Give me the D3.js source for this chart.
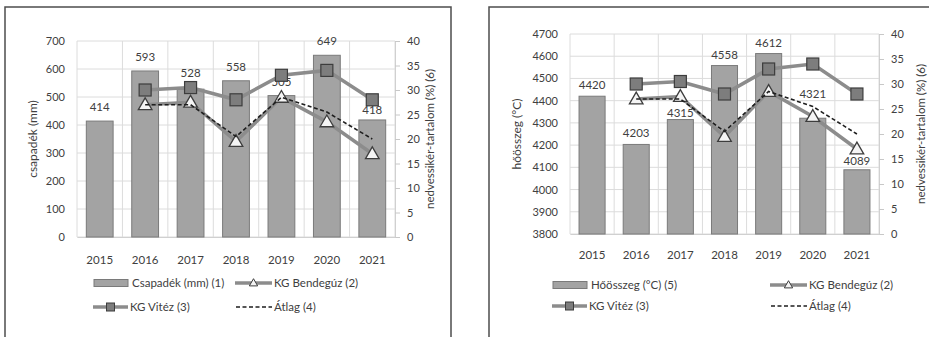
<!DOCTYPE html>
<html><head><meta charset="utf-8">
<script src="https://cdn.jsdelivr.net/npm/d3@7"></script>
<style>
body{margin:0;background:#fff;}
svg{display:block;font-family:Lato,"Open Sans",sans-serif;}
</style></head><body>
<svg id="c" width="929" height="337"></svg>
<script>
const years = ["2015","2016","2017","2018","2019","2020","2021"];
const precipitation = [414, 593, 528, 558, 505, 649, 418];
const heatSum = [4420, 4203, 4315, 4558, 4612, 4321, 4089];
const bendeguz = [null, 27, 27.5, 19.5, 28.5, 23.5, 17];
const vitez = [null, 30, 30.5, 28, 33, 34, 28];
const atlag = [null, 27, 27, 20.5, 28.5, 25.5, 20];
const precipTicks = [0,100,200,300,400,500,600,700];
const heatTicks = [3800,3900,4000,4100,4200,4300,4400,4500,4600,4700];
const moistTicks = [0,5,10,15,20,25,30,35,40];

const svg = d3.select("#c");
const TXT = "#404040";

function panel(cfg){
  const g = svg.append("g");
  g.append("rect").attr("x",cfg.bx0).attr("y",7).attr("width",cfg.bx1-cfg.bx0).attr("height",400)
    .attr("fill","none").attr("stroke","#4d4d4d").attr("stroke-width",1.5);
  const x = d3.scaleBand().domain(years).range([cfg.x0,cfg.x1]).paddingInner(0).paddingOuter(0);
  const y = d3.scaleLinear().domain(cfg.yDomain).range([cfg.yB,cfg.yT]);
  const y2 = d3.scaleLinear().domain([0,40]).range([cfg.yB,cfg.yT]);
  g.append("g").selectAll("line").data(cfg.yTicks).join("line")
    .attr("x1",cfg.x0).attr("x2",cfg.x1).attr("y1",d=>y(d)).attr("y2",d=>y(d))
    .attr("stroke","#dcdcdc").attr("stroke-width",1);
  const bounds = years.map(d=>x(d)).concat([cfg.x1]);
  g.append("g").selectAll("line").data(bounds).join("line")
    .attr("x1",d=>d).attr("x2",d=>d).attr("y1",cfg.yT).attr("y2",cfg.yB)
    .attr("stroke","#dcdcdc").attr("stroke-width",1);
  const la = g.append("g").attr("transform",`translate(${cfg.x0-12},0)`)
    .call(d3.axisLeft(y).tickValues(cfg.yTicks).tickFormat(d3.format("d")).tickSize(0).tickPadding(0));
  la.select(".domain").remove();
  la.selectAll("text").attr("fill",TXT).attr("font-size",11).attr("font-family","Lato,sans-serif");
  const ra = g.append("g").attr("transform",`translate(${cfg.x1},0)`)
    .call(d3.axisRight(y2).tickValues(moistTicks).tickSize(5).tickPadding(7));
  ra.select(".domain").attr("stroke","#d0d0d0");
  ra.selectAll("line").attr("stroke","#c8c8c8");
  ra.selectAll("text").attr("fill",TXT).attr("font-size",11).attr("font-family","Lato,sans-serif");
  const ba = g.append("g").attr("transform",`translate(0,${cfg.yB})`)
    .call(d3.axisBottom(x).tickSize(0).tickPadding(cfg.xPad));
  ba.select(".domain").attr("stroke","#d0d0d0");
  ba.selectAll("text").attr("fill",TXT).attr("font-size",11.5).attr("font-family","Lato,sans-serif");
  const bw = x.bandwidth()*0.59;
  const cxi = i=>x(years[i])+x.bandwidth()/2;
  g.append("g").selectAll("rect").data(cfg.bars).join("rect")
    .attr("x",(d,i)=>cxi(i)-bw/2).attr("width",bw)
    .attr("y",d=>y(d)).attr("height",d=>cfg.yB-y(d))
    .attr("fill","#a3a3a3").attr("stroke","#7a7a7a").attr("stroke-width",1);
  g.append("g").selectAll("text").data(cfg.bars).join("text")
    .attr("x",(d,i)=>cxi(i)).attr("y",(d,i)=>y(d)-cfg.labOff-((cfg.labAdj||{})[i]||0))
    .attr("text-anchor","middle").attr("dy","0.35em").attr("font-size",11.5).attr("fill",TXT)
    .text(d=>d);
  const line = d3.line().defined(d=>d!=null).x((d,i)=>cxi(i)).y(d=>y2(d));
  const pts = arr => arr.map((v,i)=>({v,i})).filter(p=>p.v!=null);
  g.append("path").datum(vitez).attr("d",line).attr("fill","none").attr("stroke","#8c8c8c").attr("stroke-width",3.5);
  g.append("path").datum(bendeguz).attr("d",line).attr("fill","none").attr("stroke","#8c8c8c").attr("stroke-width",3.5);
  g.append("g").selectAll("rect").data(pts(vitez)).join("rect")
    .attr("x",p=>cxi(p.i)-6).attr("y",p=>y2(p.v)-6).attr("width",12).attr("height",12)
    .attr("fill","#7d7d7d").attr("stroke","#3d3d3d").attr("stroke-width",1.2);
  const tri = d3.symbol().type(d3.symbolTriangle).size(80);
  g.append("g").selectAll("path").data(pts(bendeguz)).join("path")
    .attr("transform",p=>`translate(${cxi(p.i)},${y2(p.v)+1})`).attr("d",tri)
    .attr("fill","#f4f4f4").attr("stroke","#3d3d3d").attr("stroke-width",1.3);
  g.append("path").datum(atlag).attr("d",line).attr("fill","none").attr("stroke","#1e1e1e")
    .attr("stroke-width",1.6).attr("stroke-dasharray","4,2.5");
  g.append("text").attr("transform",`translate(${cfg.ltX},${(cfg.yT+cfg.yB)/2}) rotate(-90)`)
    .attr("text-anchor","middle").attr("dy","0.35em").attr("font-size",12).attr("fill",TXT).text(cfg.lTitle);
  g.append("text").attr("transform",`translate(${cfg.rtX},${(cfg.yT+cfg.yB)/2}) rotate(-90)`)
    .attr("text-anchor","middle").attr("dy","0.35em").attr("font-size",11.5).attr("fill",TXT).text("nedvessikér-tartalom (%) (6)");
  const L = cfg.leg;
  const lg = g.append("g").attr("font-size",11.5).attr("fill",TXT);
  lg.append("rect").attr("x",L.bx).attr("y",L.r1-3.5).attr("width",34).attr("height",7)
    .attr("fill","#a3a3a3").attr("stroke","#7a7a7a");
  lg.append("text").attr("x",L.bx+38).attr("y",L.r1).attr("dy","0.35em").text(cfg.barName);
  lg.append("line").attr("x1",L.cx).attr("x2",L.cx+37).attr("y1",L.r1).attr("y2",L.r1)
    .attr("stroke","#8c8c8c").attr("stroke-width",3.5);
  lg.append("path").attr("transform",`translate(${L.cx+18.5},${L.r1+0.5})`)
    .attr("d",d3.symbol().type(d3.symbolTriangle).size(30)).attr("fill","#f4f4f4").attr("stroke","#3d3d3d");
  lg.append("text").attr("x",L.cx+39).attr("y",L.r1).attr("dy","0.35em").text("KG Bendegúz (2)");
  lg.append("line").attr("x1",L.bx-1).attr("x2",L.bx+34).attr("y1",L.r2).attr("y2",L.r2)
    .attr("stroke","#8c8c8c").attr("stroke-width",3.5);
  lg.append("rect").attr("x",L.bx+16.5-4).attr("y",L.r2-4).attr("width",8).attr("height",8)
    .attr("fill","#7d7d7d").attr("stroke","#3d3d3d");
  lg.append("text").attr("x",L.bx+36).attr("y",L.r2).attr("dy","0.35em").text("KG Vitéz (3)");
  lg.append("line").attr("x1",L.cx+1).attr("x2",L.cx+37).attr("y1",L.r2).attr("y2",L.r2)
    .attr("stroke","#1e1e1e").attr("stroke-width",1.6).attr("stroke-dasharray","4,2.5");
  lg.append("text").attr("x",L.cx+39).attr("y",L.r2).attr("dy","0.35em").text("Átlag (4)");
}

panel({bx0:5,bx1:451,x0:77,x1:395,yT:41,yB:237,yDomain:[0,700],yTicks:precipTicks,
  bars:precipitation,labOff:14,xPad:19,ltX:33,rtX:430,lTitle:"csapadék (mm)",
  barName:"Csapadék (mm) (1)",leg:{bx:94,cx:235,r1:283,r2:307},labAdj:{2:2,6:-4}});
panel({bx0:489,bx1:940,x0:570,x1:879,yT:34,yB:234,yDomain:[3800,4700],yTicks:heatTicks,
  bars:heatSum,labOff:11,xPad:17,ltX:517,rtX:921,lTitle:"hőösszeg (°C)",
  barName:"Hőösszeg (°C) (5)",leg:{bx:553,cx:770,r1:285,r2:306},labAdj:{2:-4,5:13,6:-2}});
</script></body></html>
